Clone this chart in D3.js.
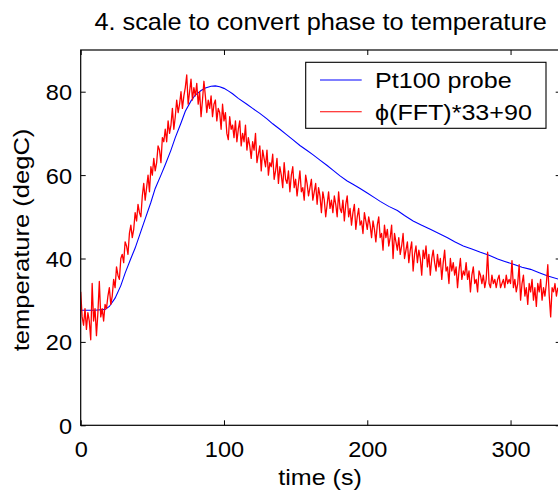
<!DOCTYPE html>
<html>
<head>
<meta charset="utf-8">
<script src="https://cdn.jsdelivr.net/npm/d3@7"></script>
<style>
html, body { margin: 0; padding: 0; background: #fff; }
svg { display: block; }
text { font-family: "Liberation Sans", Arial, Helvetica, sans-serif; fill: #000; }
</style>
</head>
<body>
<svg id="canvas" width="558" height="500"></svg>
<script>
var titleText = '4. scale to convert phase to temperature';
var xLabel = 'time (s)';
var yLabel = 'temperature (degC)';
var xTicks = [0, 100, 200, 300];
var yTicks = [0, 20, 40, 60, 80];
var seriesNames = ['Pt100 probe', '\u03d5(FFT)*33+90'];
var seriesColors = ['#0000ff', '#ff0000'];

// Pt100 probe
var probeTime = [0, 10, 17, 20, 24, 28, 31, 35, 38, 42, 45, 49, 52, 56, 59, 63, 66, 70, 73, 77, 80, 84, 87, 91, 94, 97,
    100, 103, 106, 110, 116, 120, 125, 130, 134, 139, 143, 148, 153, 158, 162, 167, 172, 176, 181, 186, 190, 195,
    200, 205, 209, 215, 221, 226, 232, 238, 244, 250, 256, 261, 267, 273, 279, 285, 291, 296, 302, 308, 314, 320, 326, 334];
var probeTemp = [27.6, 27.6, 27.8, 28.5, 30.5, 33.5, 36.5, 40, 42.5, 46.5, 49.5, 53.5, 56.8, 60, 62.5, 66, 69, 72.5, 75.3, 77.8, 79.2, 80.3, 80.9, 81.3, 81.4, 81.2,
    80.8, 80.2, 79.5, 78.4, 77.0, 76.0, 74.8, 73.5, 72.3, 71.0, 69.9, 68.5, 67.1, 65.9, 64.9, 63.6, 62.3, 61.2, 59.8, 58.6, 57.8, 56.8,
    55.7, 54.6, 53.7, 52.5, 51.5, 50.3, 49.0, 48.0, 47.0, 46.0, 45.0, 44.0, 43.0, 42.3, 41.5, 40.8, 39.9, 39.3, 38.6, 37.9, 37.4, 36.6, 35.8, 35.0];

// phase estimate, one sample per second from t = 0
var phaseStart = 0;
var phaseStep = 1;
var phaseTemp = [
    32, 26, 24, 28, 23, 27, 25, 20.5, 34, 25,
    28, 21.5, 27, 34.5, 26, 28, 25, 29, 28, 31,
    33, 29, 31, 35, 33, 38, 36, 35, 40, 41,
    39, 44, 43, 41, 46, 48, 45, 47, 51, 49,
    53, 51, 50, 55, 58, 54, 57, 60, 56, 62,
    60, 64, 61, 63, 67, 66, 63, 69, 68, 71,
    68, 73, 70, 72, 76, 71, 74, 78, 75, 77,
    80, 76, 79, 81, 84, 77, 80, 83, 78, 81,
    79, 82, 77, 80, 74, 78, 82.5, 79, 75, 78,
    76, 79, 74, 77, 78, 73, 76, 75, 71, 77,
    73, 75, 70, 68.5, 74, 71, 72, 69, 73, 68,
    71, 73, 67, 70, 68, 72, 66, 69, 67, 64,
    68, 66, 70, 63, 65, 67, 61, 66, 64, 62,
    66, 60, 63, 62, 65, 59, 61, 64, 58, 62,
    60, 57, 63, 59, 58, 61, 56, 60, 62, 57,
    59, 55, 58, 61, 56, 57, 54, 60, 58, 55,
    57, 59, 54, 56, 58, 53, 57, 55, 51, 56,
    54, 50, 53, 56, 52, 54, 51, 55, 53, 50,
    56, 52, 51, 54, 49, 53, 55, 50, 52, 48,
    51, 53, 47, 50, 52, 48, 49, 46, 51, 49,
    47, 50, 48, 45, 49, 47, 44, 48, 50, 45,
    46, 42, 48, 45, 47, 43, 45, 48, 40, 46,
    44, 42, 45, 41, 43, 46, 40, 42, 44, 39,
    42, 44, 37, 41, 43, 39, 42, 40, 36, 42,
    40, 43, 38, 41, 36, 40, 42, 39, 37, 41,
    38, 40, 35, 39, 42, 37, 38, 34, 40, 37,
    39, 36, 38, 33, 37, 40, 35, 37, 36, 39,
    35, 37, 32, 36, 38, 34, 35, 32, 37, 36,
    34, 36, 33, 35, 41.5, 34, 33, 36, 34, 35,
    33, 35, 36, 33, 34, 35, 33, 36, 34, 35,
    34, 39.5, 33, 35, 32, 34, 38.5, 30, 34, 36,
    31, 33, 29, 34, 32, 35, 30, 33, 28.5, 34,
    32, 35, 30, 33, 31, 34, 38.5, 31, 26, 33,
    32, 34, 31, 33];

function drawChart() {
    "use strict";

    var svg = d3.select(document.getElementById('canvas'));
    var left = 80.7, right = 560.7, top = 50, bottom = 425.3;

    var x = d3.scaleLinear().domain([0, 335]).range([left, right]);
    var y = d3.scaleLinear().domain([0, 90]).range([bottom, top]);

    svg.append('clipPath').attr('id', 'plotClip')
        .append('rect')
        .attr('x', left).attr('y', top)
        .attr('width', right - left).attr('height', bottom - top);

    var line = d3.line()
        .x(function(d) { return x(d[0]); })
        .y(function(d) { return y(d[1]); });

    var probe = probeTime.map(function(t, i) { return [t, probeTemp[i]]; });
    var phase = phaseTemp.map(function(v, i) { return [phaseStart + i * phaseStep, v]; });

    var plot = svg.append('g').attr('clip-path', 'url(#plotClip)');
    plot.append('path')
        .attr('d', line(probe))
        .attr('fill', 'none')
        .attr('stroke', seriesColors[0])
        .attr('stroke-width', 1.1);
    plot.append('path')
        .attr('d', line(phase))
        .attr('fill', 'none')
        .attr('stroke', seriesColors[1])
        .attr('stroke-width', 1.3)
        .attr('stroke-linejoin', 'round');

    // box and inward ticks on all four sides
    svg.append('rect')
        .attr('x', left).attr('y', top)
        .attr('width', right - left).attr('height', bottom - top)
        .attr('fill', 'none').attr('stroke', '#000').attr('stroke-width', 1.2);

    var gx = svg.append('g').attr('transform', 'translate(0,' + bottom + ')')
        .call(d3.axisBottom(x).tickValues(xTicks).tickSizeInner(-5).tickSizeOuter(0));
    var gy = svg.append('g').attr('transform', 'translate(' + left + ',0)')
        .call(d3.axisLeft(y).tickValues(yTicks).tickSizeInner(-5).tickSizeOuter(0));
    svg.append('g').attr('transform', 'translate(0,' + top + ')')
        .call(d3.axisTop(x).tickValues(xTicks).tickSizeInner(-5).tickSizeOuter(0).tickFormat(''));
    svg.append('g').attr('transform', 'translate(' + right + ',0)')
        .call(d3.axisRight(y).tickValues(yTicks).tickSizeInner(-5).tickSizeOuter(0).tickFormat(''));

    svg.selectAll('.domain').remove();
    svg.selectAll('.tick line').attr('stroke', '#000').attr('stroke-width', 1);

    gx.selectAll('text')
        .attr('y', 31.4).attr('dy', null)
        .attr('font-size', 22)
        .attr('font-family', null)
        .attr('transform', 'scale(1.07,1)');
    gy.selectAll('text')
        .attr('x', -8.7 / 1.07).attr('dy', '0.36em')
        .attr('font-size', 22)
        .attr('font-family', null)
        .attr('transform', 'scale(1.07,1)');

    svg.append('text')
        .attr('transform', 'translate(' + ((left + right) / 2) + ',30) scale(1.1,1)')
        .attr('text-anchor', 'middle')
        .attr('font-size', 23)
        .text(titleText);

    svg.append('text')
        .attr('transform', 'translate(320,485) scale(1.14,1)')
        .attr('text-anchor', 'middle')
        .attr('font-size', 22)
        .text(xLabel);

    svg.append('text')
        .attr('transform', 'translate(28.5,240) rotate(-90) scale(1.16,1)')
        .attr('text-anchor', 'middle')
        .attr('font-size', 22)
        .text(yLabel);

    // legend
    var legend = svg.append('g');
    legend.append('rect')
        .attr('x', 305.7).attr('y', 62.3)
        .attr('width', 240.3).attr('height', 66)
        .attr('fill', '#fff').attr('stroke', '#000').attr('stroke-width', 1.1);

    var rows = legend.selectAll('g.row')
        .data(seriesNames)
        .enter().append('g')
        .attr('class', 'row')
        .attr('transform', function(d, i) { return 'translate(0,' + (80 + i * 31.7) + ')'; });
    rows.append('line')
        .attr('x1', 320).attr('x2', 361.7)
        .attr('y1', 0).attr('y2', 0)
        .attr('stroke', function(d, i) { return seriesColors[i]; })
        .attr('stroke-width', 1.1);
    rows.append('text')
        .attr('transform', 'translate(375,8.3) scale(1.14,1)')
        .attr('font-size', 22)
        .text(function(d) { return d; });
}

drawChart();
</script>
</body>
</html>
